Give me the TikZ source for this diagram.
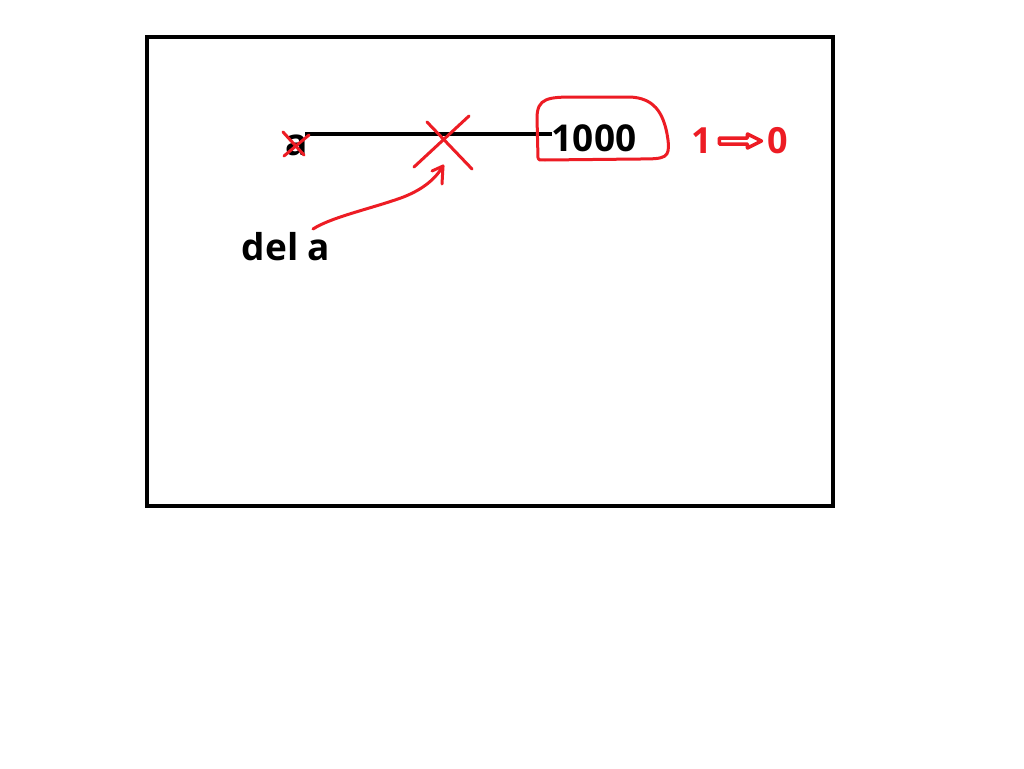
\documentclass[tikz,border=0pt]{standalone}
\usepackage{fontspec}
\setmainfont{Open Sans}
\usetikzlibrary{calc}
\definecolor{pred}{HTML}{ED1C24}
\tikzset{
  lbl/.style={inner sep=0pt, font=\fontsize{37}{40}\selectfont\bfseries, text=black},
  rlbl/.style={inner sep=0pt, font=\fontsize{36}{40}\selectfont\bfseries, text=pred},
  redpen/.style={draw=pred, line width=3pt, line cap=round, line join=round},
  blackpen/.style={draw=black, line width=4pt}
}
\begin{document}
\begin{tikzpicture}[x=1pt,y=-1pt]
\useasboundingbox (0,0) rectangle (1024,768);
\fill[white] (0,0) rectangle (1024,768);
% frame
\draw[blackpen] (147,37) rectangle (833,506);
% texts
\node[lbl] (a) at (297,145) {a};
\node[lbl] (num) at (594,138) {1000};
\node[lbl] (del) at (286,247) {del a};
\node[rlbl] (one) at (702,141) {1};
\node[rlbl] (zero) at (778,141) {0};
% reference line
\coordinate (lstart) at (305,134);
\coordinate (lend) at (552,134);
\draw[blackpen] (lstart) -- (lend);
% red x over a
\draw[redpen] (283,132) -- (304,155);
\draw[redpen] (309,135) -- (284,156);
% big X on the line
\draw[redpen] (427,122) -- (472,169);
\draw[redpen] (469,116) -- (414,167);
% blob around 1000
\draw[redpen] (538,158) -- (537,118) .. controls (537,98) and (548,97) .. (575,97)
  -- (630,97) .. controls (652,98) and (664,110) .. (668,140)
  .. controls (670,158) and (666,159) .. (640,159) -- (545,160) .. controls (539,160) and (538,160) .. (538,158);
% arrow from del a to X
\coordinate (tip) at (443,166);
\draw[redpen] (313,229) .. controls (330,218) and (365,210) .. (395,200) .. controls (420,192) and (435,180) .. (tip);
\draw[redpen] (tip) -- (432,171);
\draw[redpen] (tip) -- (442,184);
% hollow arrow 1 => 0
\draw[draw=pred, line width=3.5pt, fill=white, line join=round]
  ($(one.east)+(7,-3)$) -- ++(28,0) -- ++(0,-4) -- ++(14,7) -- ++(-14,7) -- ++(0,-4) -- ++(-28,0) -- cycle;
\end{tikzpicture}
\end{document}
